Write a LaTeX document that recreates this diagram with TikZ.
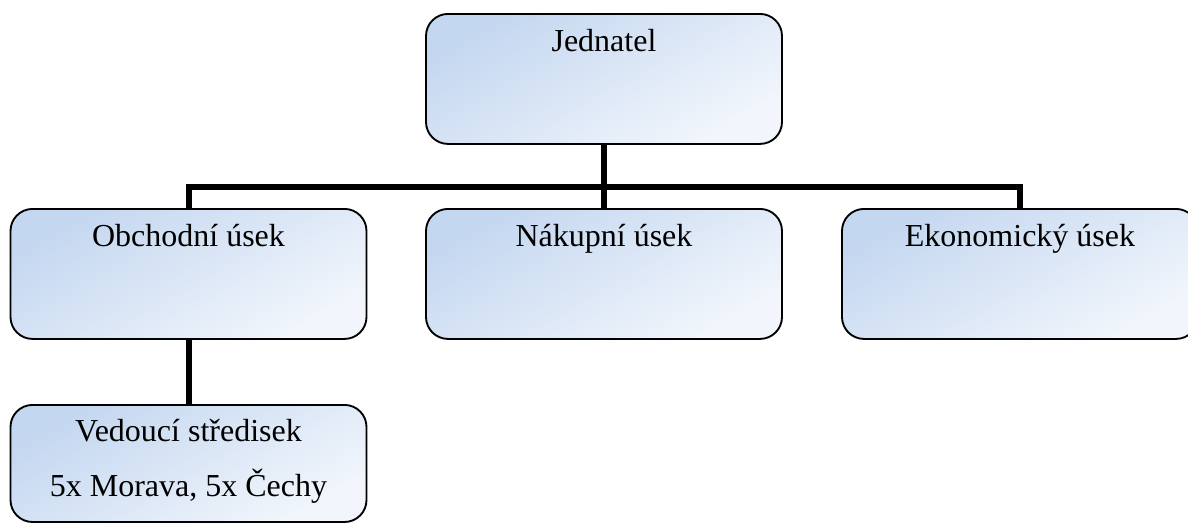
\documentclass[tikz,border=0pt]{standalone}
\usepackage{fontspec}
\setmainfont{Liberation Serif}
\usepackage{xcolor}
\definecolor{boxtop}{RGB}{196,215,240}
\definecolor{boxbot}{RGB}{242,246,252}

\tikzset{
  unit/.style={draw=black, line width=0.7pt, rounded corners=8.25pt,
    top color=boxtop, bottom color=boxbot, shading angle=30,
    anchor=north, inner sep=0pt, minimum width=133.5pt,
    text height=14pt, text depth=34.75pt, align=center,
    font=\fontsize{12pt}{20.6pt}\selectfont},
  link/.style={line width=2.25pt, black}
}

\begin{document}
\begin{tikzpicture}[x=0.375pt, y=-0.375pt]
  \useasboundingbox (0,0) rectangle (1188,528);
  \node[unit] (jednatel) at (604,13) {Jednatel};
  \node[unit] (obchod) at (188.5,208) {Obchodní úsek};
  \node[unit] (nakup) at (604,208) {Nákupní úsek};
  \node[unit] (ekonom) at (1020,208) {Ekonomický úsek};
  \node[unit, text height=34.4pt, text depth=9.5pt] (vedouci) at (188.5,404)
    {Vedoucí středisek\\5x Morava, 5x Čechy};

  \draw[link] (jednatel.south) -- ++(0,42) -| (obchod.north);
  \draw[link] (jednatel.south) -- ++(0,42) -| (ekonom.north);
  \draw[link] (jednatel.south) -- (nakup.north);
  \draw[link] (obchod.south) -- (vedouci.north);
\end{tikzpicture}
\end{document}
